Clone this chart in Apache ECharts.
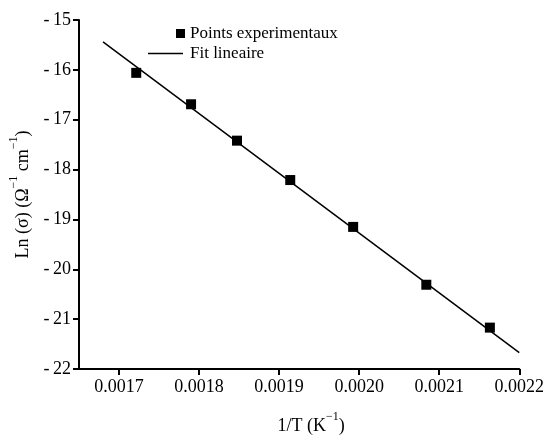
<!DOCTYPE html>
<html>
<head>
<meta charset="utf-8">
<script src="https://cdn.jsdelivr.net/npm/echarts@6/dist/echarts.min.js"></script>
<style>
html,body{margin:0;padding:0;background:#fff;}
#chart{width:547px;height:440px;}
</style>
</head>
<body>
<div id="chart"></div>
<script>
// Data
var invT = [0.0017215, 0.00179, 0.0018474, 0.0019139, 0.0019925, 0.0020839, 0.0021633];
var lnSigma = [-16.06, -16.69, -17.42, -18.21, -19.15, -20.31, -21.17];
var fitX = [0.00168, 0.0022];
var fitY = [-15.44, -21.67];
var xTicks = [0.0017, 0.0018, 0.0019, 0.0020, 0.0021, 0.0022];

var FONT = 'Liberation Serif';
var pts = invT.map(function (x, i) { return [x, lnSigma[i]]; });
var fit = fitX.map(function (x, i) { return [x, fitY[i]]; });

var richName = {
  b: {fontFamily: FONT, fontSize: 18, lineHeight: 24, color: '#000', verticalAlign: 'bottom'},
  s: {fontFamily: FONT, fontSize: 12, lineHeight: 12, color: '#000', verticalAlign: 'top'}
};

var chart = echarts.init(document.getElementById('chart'), null, {renderer: 'canvas'});
chart.setOption({
  animation: false,
  backgroundColor: '#fff',
  grid: {left: 70, right: 26, top: 20, bottom: 51, containLabel: false},
  legend: [
    {
      data: [{name: 'Points experimentaux', icon: 'rect'}],
      left: 171, top: 20, itemWidth: 9, itemHeight: 9,
      textStyle: {fontFamily: FONT, fontSize: 17, color: '#000'}
    },
    {
      data: [{name: 'Fit lineaire', icon: 'rect'}],
      left: 143, top: 40, itemWidth: 35, itemHeight: 1.5,
      itemStyle: {color: '#000'},
      textStyle: {fontFamily: FONT, fontSize: 17, color: '#000', padding: [0, 0, 0, 2]}
    }
  ],
  xAxis: {
    type: 'value',
    min: 0.00165, max: 0.0022,
    name: '{b|1/T (K}{s|\u22121}{b|)}',
    nameLocation: 'middle', nameGap: 42,
    nameTextStyle: {fontFamily: FONT, fontSize: 18, color: '#000', rich: richName, padding: [0, 0, 0, 24]},
    axisLine: {show: true, lineStyle: {color: '#000', width: 2}},
    axisTick: {show: true, inside: false, length: 6, customValues: xTicks, lineStyle: {color: '#000', width: 2}},
    axisLabel: {
      customValues: xTicks, margin: 9,
      fontFamily: FONT, fontSize: 18, color: '#000',
      formatter: function (v) { return v.toFixed(4); }
    },
    splitLine: {show: false}
  },
  yAxis: {
    type: 'value',
    min: -22, max: -15, interval: 1,
    name: '{b|Ln (\u03C3) (\u03A9}{s|\u22121}{b| cm}{s|\u22121}{b|)}',
    nameLocation: 'middle', nameGap: 47, nameRotate: 90,
    nameTextStyle: {fontFamily: FONT, fontSize: 18, color: '#000', rich: richName},
    axisLine: {show: true, lineStyle: {color: '#000', width: 2}},
    axisTick: {show: true, inside: false, length: 6, lineStyle: {color: '#000', width: 2}},
    axisLabel: {
      margin: 8, fontFamily: FONT, fontSize: 18, color: '#000',
      formatter: function (v) { return v < 0 ? '-\u2009' + Math.abs(v) : String(v); }
    },
    splitLine: {show: false}
  },
  series: [
    {
      name: 'Points experimentaux',
      type: 'scatter',
      symbol: 'rect', symbolSize: 10,
      itemStyle: {color: '#000', opacity: 1},
      data: pts, z: 3
    },
    {
      name: 'Fit lineaire',
      type: 'line',
      symbol: 'none',
      lineStyle: {color: '#000', width: 1.5},
      itemStyle: {color: '#000'},
      data: fit, z: 2
    }
  ]
});
</script>
</body>
</html>
